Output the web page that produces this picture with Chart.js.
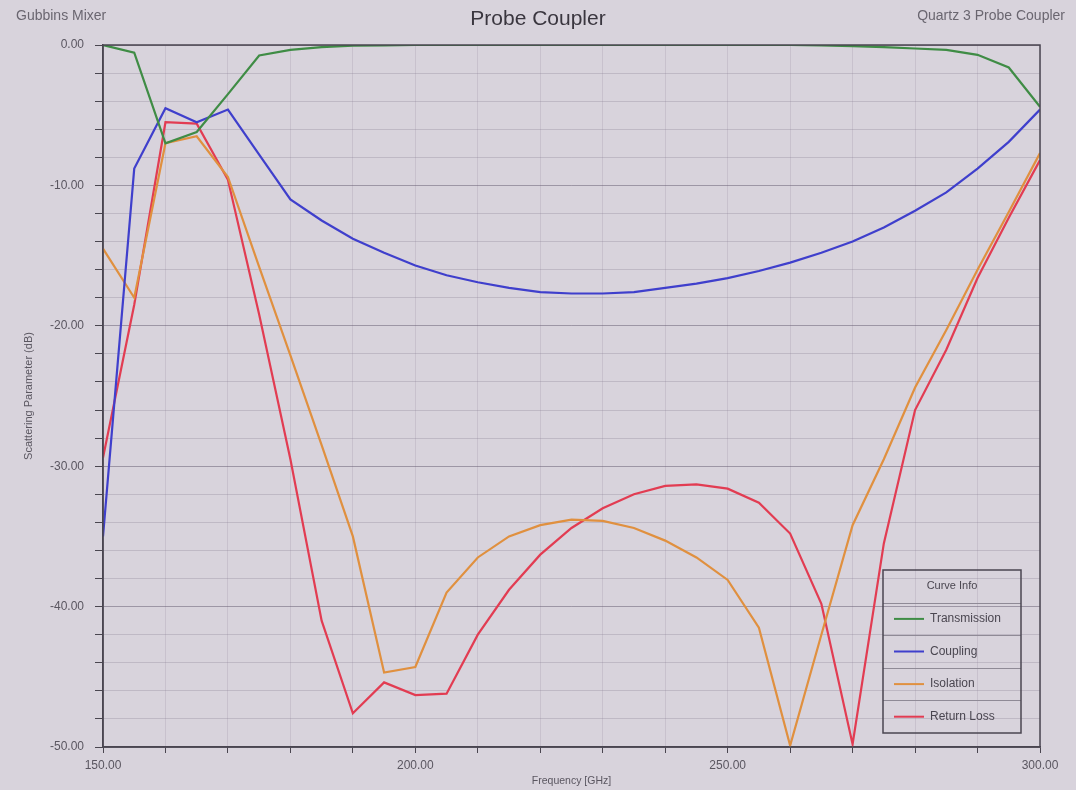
<!DOCTYPE html>
<html>
<head>
<meta charset="utf-8">
<title>Probe Coupler</title>
<script src="https://cdn.jsdelivr.net/npm/chart.js@4.4.1/dist/chart.umd.min.js"></script>
<style>
    body { margin: 0; background: #d8d3dc; }
    #wrap { width: 1076px; height: 790px; }
</style>
</head>
<body>
<div id="wrap"><canvas id="probeCanvas" width="1076" height="790"></canvas></div>
<script>
// --- ДАННЫЕ ---
const frequencies = [150, 155, 160, 165, 170, 175, 180, 185, 190, 195, 200, 205, 210, 215, 220, 225,
                     230, 235, 240, 245, 250, 255, 260, 265, 270, 275, 280, 285, 290, 295, 300];

const transmission = [0, -0.55, -7.0, -6.2, -3.5, -0.75, -0.35, -0.15, -0.05, -0.02, 0, 0, 0, 0, 0, 0,
                      0, 0, 0, 0, 0, 0, 0, -0.02, -0.08, -0.15, -0.25, -0.35, -0.7, -1.6, -4.4];

const coupling = [-35.0, -8.8, -4.5, -5.5, -4.6, -7.8, -11.0, -12.5, -13.8, -14.8, -15.7, -16.4, -16.9, -17.3, -17.6, -17.7,
                  -17.7, -17.6, -17.3, -17.0, -16.6, -16.1, -15.5, -14.8, -14.0, -13.0, -11.8, -10.5, -8.8, -6.9, -4.6];

const isolation = [-14.5, -18.0, -7.0, -6.5, -9.4, -15.8, -22.1, -28.5, -35.0, -44.7, -44.3, -39.0, -36.5, -35.0, -34.2, -33.8,
                   -33.9, -34.4, -35.3, -36.5, -38.1, -41.5, -49.9, -42.0, -34.2, -29.5, -24.4, -20.3, -16.0, -11.9, -7.7];

const returnLoss = [-29.4, -18.5, -5.5, -5.6, -9.6, -19.2, -29.5, -41.0, -47.6, -45.4, -46.3, -46.2, -42.0, -38.8, -36.3, -34.4,
                    -33.0, -32.0, -31.4, -31.3, -31.6, -32.6, -34.8, -39.8, -49.8, -35.5, -26.0, -21.7, -16.6, -12.3, -8.2];

const seriesNames = ['Transmission', 'Coupling', 'Isolation', 'Return Loss'];
const seriesValues = [transmission, coupling, isolation, returnLoss];
const seriesColors = ['#3f8c45', '#3f3fcc', '#e0903f', '#e23c52'];

const FONT = '"Liberation Sans", Arial, sans-serif';
const TEXT_COLOR = '#5a5660';

// Рамка, заголовки и блок "Curve Info"
const decorPlugin = {
    id: 'decor',
    afterDraw(chart) {
        const ctx = chart.ctx;
        const area = chart.chartArea;
        ctx.save();

        // рамка области построения
        ctx.strokeStyle = '#4a4650';
        ctx.lineWidth = 1.5;
        ctx.strokeRect(area.left, area.top, area.right - area.left, area.bottom - area.top);

        // заголовки
        ctx.fillStyle = '#6a6670';
        ctx.font = '14px ' + FONT;
        ctx.textBaseline = 'middle';
        ctx.textAlign = 'left';
        ctx.fillText('Gubbins Mixer', 16, 16);
        ctx.textAlign = 'right';
        ctx.fillText('Quartz 3 Probe Coupler', 1065, 16);
        ctx.fillStyle = '#3a363f';
        ctx.font = '21px ' + FONT;
        ctx.textAlign = 'center';
        ctx.fillText('Probe Coupler', 538, 19);

        // легенда
        const box = { left: 883, top: 570, right: 1021, bottom: 733 };
        const rowH = (box.bottom - box.top) / 5;
        ctx.strokeStyle = '#8f8a96';
        ctx.lineWidth = 1;
        for (let i = 1; i < 5; i++) {
            const y = Math.round(box.top + rowH * i) + 0.5;
            ctx.beginPath();
            ctx.moveTo(box.left, y);
            ctx.lineTo(box.right, y);
            ctx.stroke();
        }
        ctx.strokeStyle = '#4a4650';
        ctx.lineWidth = 1.5;
        ctx.strokeRect(box.left, box.top, box.right - box.left, box.bottom - box.top);

        ctx.fillStyle = '#4a4650';
        ctx.font = '11px ' + FONT;
        ctx.textAlign = 'center';
        ctx.fillText('Curve Info', (box.left + box.right) / 2, box.top + rowH / 2);

        ctx.font = '12px ' + FONT;
        ctx.textAlign = 'left';
        chart.data.datasets.forEach((ds, i) => {
            const y = box.top + rowH * (i + 1.5);
            ctx.strokeStyle = ds.borderColor;
            ctx.lineWidth = 2;
            ctx.beginPath();
            ctx.moveTo(894, y);
            ctx.lineTo(924, y);
            ctx.stroke();
            ctx.fillStyle = '#4a4650';
            ctx.fillText(ds.label, 930, y);
        });

        ctx.restore();
    }
};

const datasets = seriesNames.map((name, i) => ({
    label: name,
    data: frequencies.map((f, j) => ({ x: f, y: seriesValues[i][j] })),
    borderColor: seriesColors[i],
    backgroundColor: seriesColors[i],
    borderWidth: 2.2,
    pointRadius: 0,
    tension: 0,
    fill: false
}));

new Chart(document.getElementById('probeCanvas'), {
    type: 'line',
    data: { datasets: datasets },
    options: {
        responsive: false,
        animation: false,
        layout: { padding: { top: 45, right: 36, left: 0, bottom: 0 } },
        plugins: {
            legend: { display: false },
            tooltip: { enabled: false }
        },
        scales: {
            x: {
                type: 'linear',
                min: 150,
                max: 300,
                afterFit: scale => { scale.height = 43; },
                ticks: {
                    stepSize: 10,
                    autoSkip: false,
                    maxRotation: 0,
                    padding: 5,
                    color: TEXT_COLOR,
                    font: { family: FONT, size: 12 },
                    callback: v => (v % 50 === 0 ? v.toFixed(2) : '')
                },
                grid: {
                    color: 'rgba(150, 140, 160, 0.25)',
                    tickColor: '#4a4650',
                    tickLength: 6
                },
                border: { color: '#4a4650', width: 1.5 },
                title: {
                    display: true,
                    text: 'Frequency [GHz]',
                    color: TEXT_COLOR,
                    font: { family: FONT, size: 10.5 },
                    padding: { top: 0, bottom: 3 }
                }
            },
            y: {
                min: -50,
                max: 0,
                afterFit: scale => { scale.width = 103; },
                ticks: {
                    stepSize: 2,
                    autoSkip: false,
                    padding: 11,
                    color: TEXT_COLOR,
                    font: { family: FONT, size: 12 },
                    callback: v => (v % 10 === 0 ? Math.abs(v) < 1e-9 ? '0.00' : v.toFixed(2) : '')
                },
                grid: {
                    color: ctx => (ctx.tick && ctx.tick.value % 10 === 0 ? 'rgba(110, 100, 120, 0.55)' : 'rgba(140, 130, 150, 0.32)'),
                    tickColor: '#4a4650',
                    tickLength: 8
                },
                border: { color: '#4a4650', width: 1.5 },
                title: {
                    display: true,
                    text: 'Scattering Parameter (dB)',
                    color: TEXT_COLOR,
                    font: { family: FONT, size: 11 },
                    padding: { top: 22, bottom: 0 }
                }
            }
        }
    },
    plugins: [decorPlugin]
});
</script>
</body>
</html>
